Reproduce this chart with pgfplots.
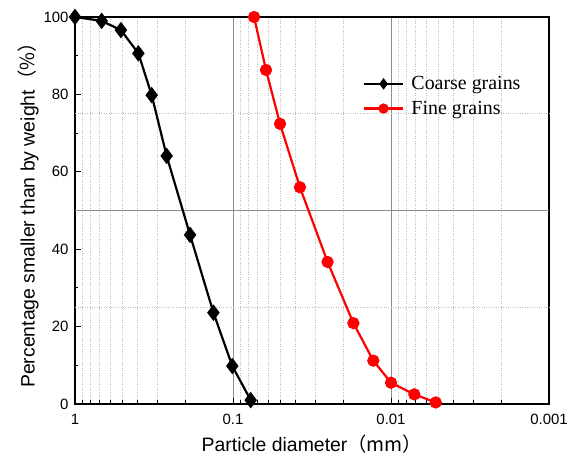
\documentclass[border=0pt]{standalone}
\usepackage{pgfplots}
\pgfplotsset{compat=1.18}
\usepackage{fontspec}
\setmainfont{Liberation Serif}
\setsansfont{Liberation Sans}
\newfontfamily\arial{Liberation Sans}
\newfontfamily\cjk{Noto Sans CJK SC}
\begin{document}
\begin{tikzpicture}
\begin{axis}[
  scale only axis,
  width=474bp, height=387bp,
  xmode=log, x dir=reverse,
  xmin=0.001, xmax=1,
  ymin=0, ymax=100,
  xtick={1,0.1,0.01,0.001},
  xticklabels={1,0.1,0.01,0.001},
  minor xtick={0.2,0.3,0.4,0.5,0.6,0.7,0.8,0.9,
               0.02,0.03,0.04,0.05,0.06,0.07,0.08,0.09,
               0.002,0.003,0.004,0.005,0.006,0.007,0.008,0.009},
  ytick={0,20,40,60,80,100},
  minor ytick={10,30,50,70,90},
  tick align=inside,
  xtick pos=bottom, ytick pos=left,
  major tick length=6bp, minor tick length=3.5bp,
  tick style={black, line width=0.9bp},
  axis line style={black, line width=1.3bp},
  every axis plot/.append style={line width=2.2bp},
  ticklabel style={font=\arial\fontsize{15}{17}\selectfont},
  yticklabel style={xshift=-3bp},
  xticklabel shift=7bp,
  /pgf/number format/assume math mode=true,
  xlabel={\arial\fontsize{19.5}{22}\selectfont Particle diameter\cjk{（}mm\cjk{）}},
  ylabel={\arial\fontsize{19.5}{22}\selectfont Percentage smaller than by weight\cjk{（}\%\cjk{）}},
  xlabel style={yshift=-3bp},
  ylabel style={yshift=-2bp},
  xminorgrids=true,
  minor x grid style={gray!50, dotted, line width=0.8bp},
  xmajorgrids=true,
  major x grid style={gray!90, line width=0.8bp},
  extra y ticks={25,75},
  extra y tick labels={},
  extra y tick style={grid=major, major grid style={gray!50, dotted, line width=0.8bp}, major tick length=0pt},
  legend style={draw=none, fill=none, at={(rel axis cs:0.6,0.857)}, anchor=north west,
    font=\fontsize{20}{23}\selectfont, row sep=6bp,
    nodes={inner sep=2bp}},
  legend image code/.code={
    \draw[mark repeat=2,mark phase=2, mark size=4bp] plot coordinates {(0cm,0cm) (0.7cm,0cm) (1.4cm,0cm)};
  },
  legend cell align=left,
]
\draw[gray!90, line width=0.8bp] (rel axis cs:0,0.5) -- (rel axis cs:1,0.5);
\addplot[black, mark=diamond*, mark size=6.5bp, mark options={solid}] coordinates {
(1,100) (0.678,99.0) (0.512,96.6) (0.397,90.6) (0.327,79.8) (0.263,64.1)
(0.187,43.7) (0.133,23.6) (0.101,9.8) (0.0773,1.0)
};
\addlegendentry{\hspace{5bp}Coarse grains}
\addplot[red, mark=*, mark size=5bp, mark options={solid}] coordinates {
(0.0736,100) (0.0618,86.3) (0.0504,72.4) (0.0377,56.0) (0.0252,36.7)
(0.0173,20.9) (0.01294,11.2) (0.0100,5.5) (0.00712,2.5) (0.00521,0.4)
};
\addlegendentry{\hspace{5bp}Fine grains}
\draw[black, line width=2.2bp] (rel axis cs:0,1) -- (rel axis cs:1,1);
\end{axis}
\pgfresetboundingbox
\useasboundingbox (current axis.south west) ++(-75bp,-57bp) rectangle ++(571bp,461bp);
\end{tikzpicture}
\end{document}
